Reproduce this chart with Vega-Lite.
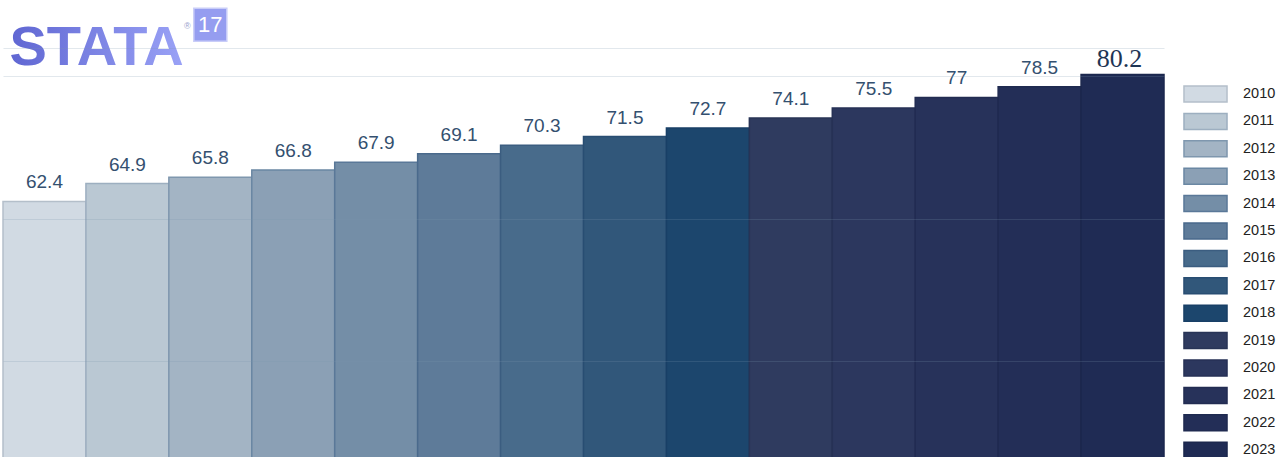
{
  "$schema": "https://vega.github.io/schema/vega-lite/v6.json",
  "width": 1161,
  "height": 457,
  "padding": {"left": 2, "top": 0, "right": 0, "bottom": 0},
  "background": "white",
  "config": {"view": {"stroke": null}, "font": "Liberation Sans"},
  "datasets": {
    "bars": [
      {"year": "2010", "value": 62.4},
      {"year": "2011", "value": 64.9},
      {"year": "2012", "value": 65.8},
      {"year": "2013", "value": 66.8},
      {"year": "2014", "value": 67.9},
      {"year": "2015", "value": 69.1},
      {"year": "2016", "value": 70.3},
      {"year": "2017", "value": 71.5},
      {"year": "2018", "value": 72.7},
      {"year": "2019", "value": 74.1},
      {"year": "2020", "value": 75.5},
      {"year": "2021", "value": 77},
      {"year": "2022", "value": 78.5},
      {"year": "2023", "value": 80.2}
    ],
    "logo": [{"label": "STATA", "year": "2010", "value": 81.5}],
    "reg": [{"label": "®", "year": "2011", "value": 87.0}],
    "badge": [{"label": "17", "year": "2012", "value": 87.2}]
  },
  "data": {"name": "bars"},
  "encoding": {
    "x": {"field": "year", "type": "nominal", "sort": null, "axis": null,
          "scale": {"paddingInner": 0, "paddingOuter": 0}},
    "y": {"field": "value", "type": "quantitative",
          "scale": {"domain": [26.53, 90.67], "zero": false, "nice": false},
          "axis": {"values": [40, 60, 80, 83.93], "labels": false, "ticks": false, "domain": false,
                   "title": null, "grid": true, "gridColor": "#7d98ad", "gridOpacity": 0.22, "zindex": 1}}
  },
  "layer": [
    {
      "mark": {"type": "bar", "strokeWidth": 1.5},
      "encoding": {
        "fill": {"field": "year", "type": "nominal", "sort": null,
          "scale": {"range": ["#D1DAE3","#BAC8D3","#A3B4C4","#8BA0B5","#748EA7","#5E7B99","#486B8B","#31577A","#1C466D","#2F3B5F","#2C375E","#27325A","#232E57","#1F2B54"]},
          "legend": {"title": null, "orient": "none", "legendX": 1193.5, "legendY": 85,
            "symbolType": "M-2.69,-1H2.69V1H-2.69Z", "symbolSize": 256, "symbolStrokeWidth": 1.5,
            "labelFont": "Liberation Sans", "labelFontSize": 14.5, "labelColor": "#222222",
            "labelOffset": 28.5, "rowPadding": 5.4, "padding": 0}},
        "stroke": {"field": "year", "type": "nominal", "sort": null,
          "scale": {"range": ["#B4BFCA","#9DAFC0","#7F97AE","#6A87A3","#5A7898","#4A6A8C","#3B5D80","#284D72","#183F66","#283456","#263155","#222C52","#1F2A50","#1B274D"]},
          "legend": {"title": null}}
      }
    },
    {
      "transform": [{"filter": "datum.year != '2023'"}],
      "mark": {"type": "text", "baseline": "alphabetic", "dy": -13, "fontSize": 19, "font": "Liberation Sans", "color": "#34506F"},
      "encoding": {"text": {"field": "value", "type": "quantitative"}}
    },
    {
      "transform": [{"filter": "datum.year == '2023'"}],
      "mark": {"type": "text", "baseline": "alphabetic", "dy": -8, "dx": -3, "fontSize": 26, "font": "Liberation Serif", "color": "#1E3555"},
      "encoding": {"text": {"field": "value", "type": "quantitative"}}
    },
    {
      "data": {"name": "logo"},
      "mark": {"type": "text", "align": "left", "baseline": "alphabetic", "dx": -35, "fontSize": 56, "fontWeight": "bold", "font": "Liberation Sans",
        "color": {"gradient": "linear", "x1": 0, "y1": 0, "x2": 1, "y2": 0, "stops": [{"offset": 0, "color": "#5F66D2"}, {"offset": 1, "color": "#9AA2F6"}]}},
      "encoding": {"text": {"field": "label", "type": "nominal"}}
    },
    {
      "data": {"name": "reg"},
      "mark": {"type": "text", "align": "center", "baseline": "middle", "dx": 60, "fontSize": 9, "color": "#9a9fcc"},
      "encoding": {"text": {"field": "label", "type": "nominal"}}
    },
    {
      "data": {"name": "badge"},
      "mark": {"type": "point", "shape": "square", "size": 1089, "filled": true, "fill": "#959DF0", "stroke": "#c9cdf8", "strokeWidth": 1.5, "opacity": 1}
    },
    {
      "data": {"name": "badge"},
      "mark": {"type": "text", "align": "center", "baseline": "middle", "fontSize": 22, "font": "Liberation Sans", "color": "white"},
      "encoding": {"text": {"field": "label", "type": "nominal"}}
    }
  ]
}
